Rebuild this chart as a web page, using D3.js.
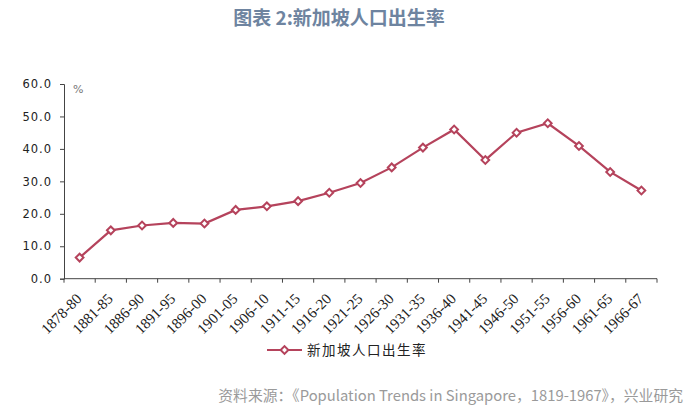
<!DOCTYPE html>
<html>
<head>
<meta charset="utf-8">
<script src="https://cdn.jsdelivr.net/npm/d3@7/dist/d3.min.js"></script>
<style>
  body { margin: 0; background: #fff; }
  svg { display: block; }
</style>
</head>
<body>
<div id="chart"></div>
<script>
// data
var periods = ['1878-80','1881-85','1886-90','1891-95','1896-00','1901-05','1906-10','1911-15','1916-20',
    '1921-25','1926-30','1931-35','1936-40','1941-45','1946-50','1951-55','1956-60','1961-65','1966-67'];
var birthRate = [6.5, 14.9, 16.4, 17.2, 17.0, 21.2, 22.3, 23.9, 26.5, 29.5, 34.3, 40.4, 46.0, 36.6, 45.0, 47.9, 40.9, 32.9, 27.2];
var yTicks = [0, 10, 20, 30, 40, 50, 60];

var width = 700, height = 413;
var margin = {top: 84, left: 64, right: 43, bottom: 134};
var lineColor = '#b5435c';

var svg = d3.select('#chart').append('svg')
    .attr('width', width)
    .attr('height', height);

svg.append('text')
    .attr('x', 339).attr('y', 25)
    .attr('text-anchor', 'middle')
    .attr('font-family', '"Noto Sans CJK SC", "Noto Sans", sans-serif')
    .attr('font-weight', 'bold')
    .attr('font-size', 19)
    .attr('fill', '#6e84a0')
    .text('图表 2:新加坡人口出生率');

var x = d3.scaleBand()
    .domain(periods)
    .range([margin.left, width - margin.right]);

var y = d3.scaleLinear()
    .domain([0, 60])
    .range([height - margin.bottom - 0.3, margin.top]);

// y axis
var yAxis = svg.append('g')
    .attr('transform', `translate(${margin.left},0)`)
    .call(d3.axisLeft(y).tickValues(yTicks).tickFormat(d3.format('.1f')).tickSize(4).tickPadding(8));
yAxis.select('.domain').attr('stroke', '#444');
yAxis.selectAll('line').attr('stroke', '#444');
yAxis.selectAll('text')
    .attr('font-family', '"DejaVu Sans", sans-serif')
    .attr('font-size', 11.5)
    .attr('letter-spacing', 1)
    .attr('fill', '#222');

// x axis, ticks sit on category boundaries
var bounds = periods.map(p => x(p)).concat([x.range()[1]]);
var xg = svg.append('g').attr('transform', `translate(0,${y(0)})`);
xg.append('line')
    .attr('x1', x.range()[0]).attr('x2', x.range()[1])
    .attr('stroke', '#444');
xg.selectAll('line.tick')
    .data(bounds)
    .enter().append('line')
    .attr('class', 'tick')
    .attr('x1', d => d).attr('x2', d => d)
    .attr('y1', 0).attr('y2', 4)
    .attr('stroke', '#444');
xg.selectAll('text')
    .data(periods)
    .enter().append('text')
    .attr('transform', d => `translate(${x(d) + x.bandwidth() / 2 + 3},${21}) rotate(-45)`)
    .attr('text-anchor', 'end')
    .attr('font-family', '"Liberation Serif", serif')
    .attr('font-size', 15)
    .attr('fill', '#222')
    .text(d => d);

svg.append('text')
    .attr('x', 73).attr('y', 93)
    .attr('font-family', '"DejaVu Sans", sans-serif')
    .attr('font-size', 11)
    .attr('fill', '#777')
    .text('%');

// line + diamond markers
var line = d3.line()
    .x((d, i) => x(periods[i]) + x.bandwidth() / 2)
    .y(d => y(d));

svg.append('path')
    .datum(birthRate)
    .attr('d', line)
    .attr('fill', 'none')
    .attr('stroke', lineColor)
    .attr('stroke-width', 2.2);

var diamond = d3.symbol().type(d3.symbolSquare).size(30);
svg.selectAll('path.marker')
    .data(birthRate)
    .enter().append('path')
    .attr('class', 'marker')
    .attr('d', diamond)
    .attr('transform', (d, i) => `translate(${x(periods[i]) + x.bandwidth() / 2},${y(d)}) rotate(45)`)
    .attr('fill', '#fff')
    .attr('stroke', lineColor)
    .attr('stroke-width', 2);

// legend
var legend = svg.append('g').attr('transform', 'translate(267,350)');
legend.append('line')
    .attr('x1', 0).attr('x2', 35)
    .attr('stroke', lineColor)
    .attr('stroke-width', 2.2);
legend.append('path')
    .attr('d', diamond)
    .attr('transform', 'translate(17.5,0) rotate(45)')
    .attr('fill', '#fff')
    .attr('stroke', lineColor)
    .attr('stroke-width', 2);
legend.append('text')
    .attr('x', 40).attr('y', 0)
    .attr('dy', '0.35em')
    .attr('font-family', '"Noto Sans CJK SC", sans-serif')
    .attr('font-size', 13.5)
    .attr('letter-spacing', 1.5)
    .attr('fill', '#222')
    .text('新加坡人口出生率');

// source note
svg.append('text')
    .attr('x', 683).attr('y', 401)
    .attr('text-anchor', 'end')
    .attr('font-family', '"Noto Sans CJK SC", "Noto Sans", sans-serif')
    .attr('font-size', 14.8)
    .attr('fill', '#9a9a9a')
    .text('资料来源：《Population Trends in Singapore，1819-1967》，兴业研究');
</script>
</body>
</html>
